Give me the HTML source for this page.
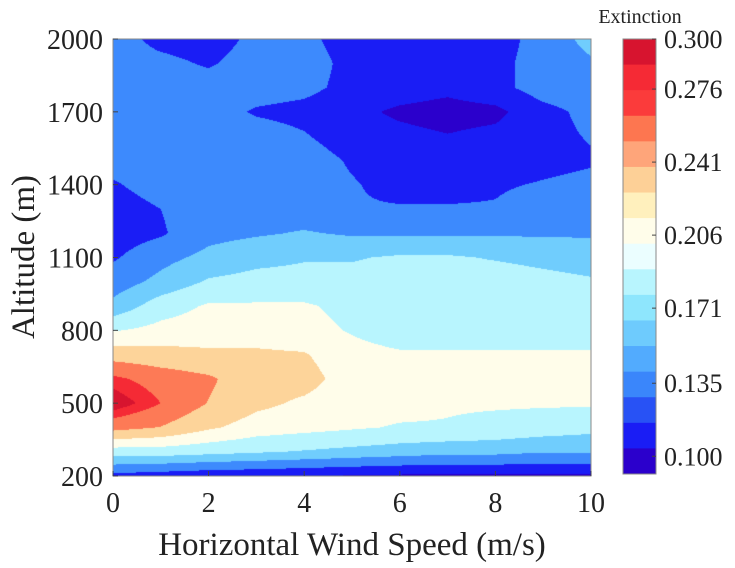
<!DOCTYPE html>
<html><head><meta charset="utf-8">
<style>
body{margin:0;background:#fff;width:735px;height:568px;overflow:hidden;position:relative;font-family:"Liberation Serif",serif;}
#field{position:absolute;left:113px;top:39px;}
svg{position:absolute;left:0;top:0;}
</style></head>
<body>
<canvas id="field" width="478" height="437"></canvas>
<svg id="ov" width="735" height="568"></svg>
<script>
const xVals=[0,1,2,3,4,5,6,7,8,9,10];
const yVals=[200,300,400,500,600,700,800,900,1000,1100,1200,1300,1400,1500,1600,1700,1800,1900,2000];
const z=[
[0.12,0.115,0.11,0.108,0.105,0.102,0.1,0.1,0.1,0.1,0.1],
[0.19,0.19,0.185,0.18,0.175,0.17,0.165,0.16,0.16,0.155,0.155],
[0.26,0.25,0.23,0.215,0.21,0.205,0.2,0.2,0.195,0.19,0.185],
[0.3,0.275,0.25,0.232,0.222,0.212,0.21,0.205,0.205,0.205,0.205],
[0.28,0.265,0.255,0.235,0.235,0.215,0.21,0.21,0.21,0.21,0.21],
[0.24,0.235,0.23,0.23,0.228,0.21,0.205,0.205,0.205,0.205,0.205],
[0.2,0.21,0.215,0.215,0.21,0.2,0.19,0.19,0.19,0.19,0.19],
[0.16,0.19,0.205,0.205,0.205,0.195,0.19,0.19,0.19,0.19,0.19],
[0.14,0.16,0.18,0.185,0.185,0.185,0.19,0.19,0.19,0.185,0.18],
[0.125,0.145,0.16,0.17,0.175,0.175,0.18,0.18,0.175,0.17,0.165],
[0.115,0.125,0.145,0.15,0.155,0.15,0.15,0.15,0.15,0.15,0.15],
[0.115,0.128,0.145,0.145,0.14,0.13,0.13,0.13,0.13,0.14,0.14],
[0.125,0.14,0.14,0.14,0.14,0.13,0.12,0.12,0.125,0.13,0.135],
[0.14,0.14,0.14,0.14,0.14,0.125,0.115,0.115,0.115,0.12,0.125],
[0.14,0.14,0.14,0.14,0.13,0.115,0.11,0.105,0.11,0.12,0.13],
[0.14,0.14,0.14,0.125,0.12,0.11,0.10,0.095,0.098,0.12,0.135],
[0.14,0.14,0.14,0.14,0.135,0.12,0.115,0.11,0.12,0.14,0.145],
[0.14,0.135,0.125,0.14,0.14,0.12,0.115,0.115,0.12,0.14,0.15],
[0.14,0.12,0.115,0.135,0.135,0.115,0.11,0.11,0.115,0.14,0.16]
];
const levelThresholds=[0.104,0.128,0.153,0.177,0.202,0.226,0.251,0.275,0.288];
const levelColors=["#2b00cc","#1a1df5","#3d8afd","#70cdfd","#b8f5fe","#fffdea","#fdd49a","#fd7a56","#f52a35","#d7142f"];
const cbarColors=["#d7142f","#f52a35","#fb3b3b","#fd7650","#fea57a","#fdd097","#fff0bd","#fffdea","#ebfeff","#b8f5fe","#8ee6fd","#6ecbfd","#52abfe","#3a86fb","#2852f5","#1a1df5","#2b00cc"];
const cbarTicks=["0.300","0.276","0.241","0.206","0.171","0.135","0.100"];
const cbarTickVals=[0.300,0.276,0.241,0.206,0.171,0.135,0.100];
const xTicks=[0,2,4,6,8,10];
const yTicks=[200,500,800,1100,1400,1700,2000];

const L=113,R=591,T=39,B=476;
const sx=v=>L+(v-0)/(10-0)*(R-L);
const sy=v=>B-(v-200)/(2000-200)*(B-T);
const cbT=39,cbB=474,cbMin=0.0915,cbMax=0.300;
const cy=v=>cbB-(v-cbMin)/(cbMax-cbMin)*(cbB-cbT);

const cv=document.getElementById('field'),ctx=cv.getContext('2d');
const W=cv.width,H=cv.height,img=ctx.createImageData(W,H);
const rgb=levelColors.map(c=>[parseInt(c.slice(1,3),16),parseInt(c.slice(3,5),16),parseInt(c.slice(5,7),16)]);
function val(x,y){
  const fx=(x-xVals[0])/(xVals[1]-xVals[0]),fy=(y-yVals[0])/(yVals[1]-yVals[0]);
  let i=Math.min(Math.floor(fx),xVals.length-2),j=Math.min(Math.floor(fy),yVals.length-2);
  i=Math.max(0,i);j=Math.max(0,j);
  const tx=fx-i,ty=fy-j;
  return z[j][i]*(1-tx)*(1-ty)+z[j][i+1]*tx*(1-ty)+z[j+1][i]*(1-tx)*ty+z[j+1][i+1]*tx*ty;
}
for(let py=0;py<H;py++){for(let px=0;px<W;px++){
  const x=(px+0.5)/W*10, y=2000-(py+0.5)/H*1800;
  const v=val(x,y);let k=0;while(k<levelThresholds.length&&v>=levelThresholds[k])k++;
  const o=(py*W+px)*4,c=rgb[k];img.data[o]=c[0];img.data[o+1]=c[1];img.data[o+2]=c[2];img.data[o+3]=255;
}}
ctx.putImageData(img,0,0);

const ov=document.getElementById('ov'),NS='http://www.w3.org/2000/svg';
function mk(t,a,txt){const e=document.createElementNS(NS,t);for(const k in a)e.setAttribute(k,a[k]);if(txt!==undefined)e.textContent=txt;ov.appendChild(e);return e;}
let e=mk('rect',{x:L,y:T,width:R-L,height:B-T,fill:'none',stroke:'#888','stroke-width':1});


xTicks.forEach(t=>{
  let l=mk('line',{x1:sx(t),x2:sx(t),y1:B,y2:B-5,stroke:'#444'});
  
  
  let tx=mk('text',{x:sx(t),y:B+36,'text-anchor':'middle','font-size':28,fill:'#222'},String(t));
  
  
});
yTicks.forEach(t=>{
  let l=mk('line',{x1:L,x2:L+5,y1:sy(t),y2:sy(t),stroke:'#444'});
  
  
  let tx=mk('text',{x:L-10,y:sy(t)+10,'text-anchor':'end','font-size':28,fill:'#222'},String(t));
  
  
});
e=mk('text',{x:352,y:555,'text-anchor':'middle','font-size':33,fill:'#222'},'Horizontal Wind Speed (m/s)');


e=mk('text',{x:0,y:0,'text-anchor':'middle','font-size':33,fill:'#222',transform:'translate(34,257) rotate(-90)'},'Altitude (m)');


const bh=(cbB-cbT)/cbarColors.length;
cbarColors.forEach((c,i)=>{
  let r=mk('rect',{x:623,y:cbT+i*bh,width:33,height:bh+0.5,fill:c});
  
  
});
e=mk('rect',{x:623,y:cbT,width:33,height:cbB-cbT,fill:'none',stroke:'#888'});


cbarTicks.forEach((t,i)=>{
  const y=cy(cbarTickVals[i]);
  let l=mk('line',{x1:656,x2:652,y1:y,y2:y,stroke:'#444'});
  
  
  let tx=mk('text',{x:664,y:y+9,'font-size':26,fill:'#222'},t);
  
  
});
e=mk('text',{x:640,y:23,'text-anchor':'middle','font-size':20,fill:'#222'},'Extinction');


</script>
</body></html>
